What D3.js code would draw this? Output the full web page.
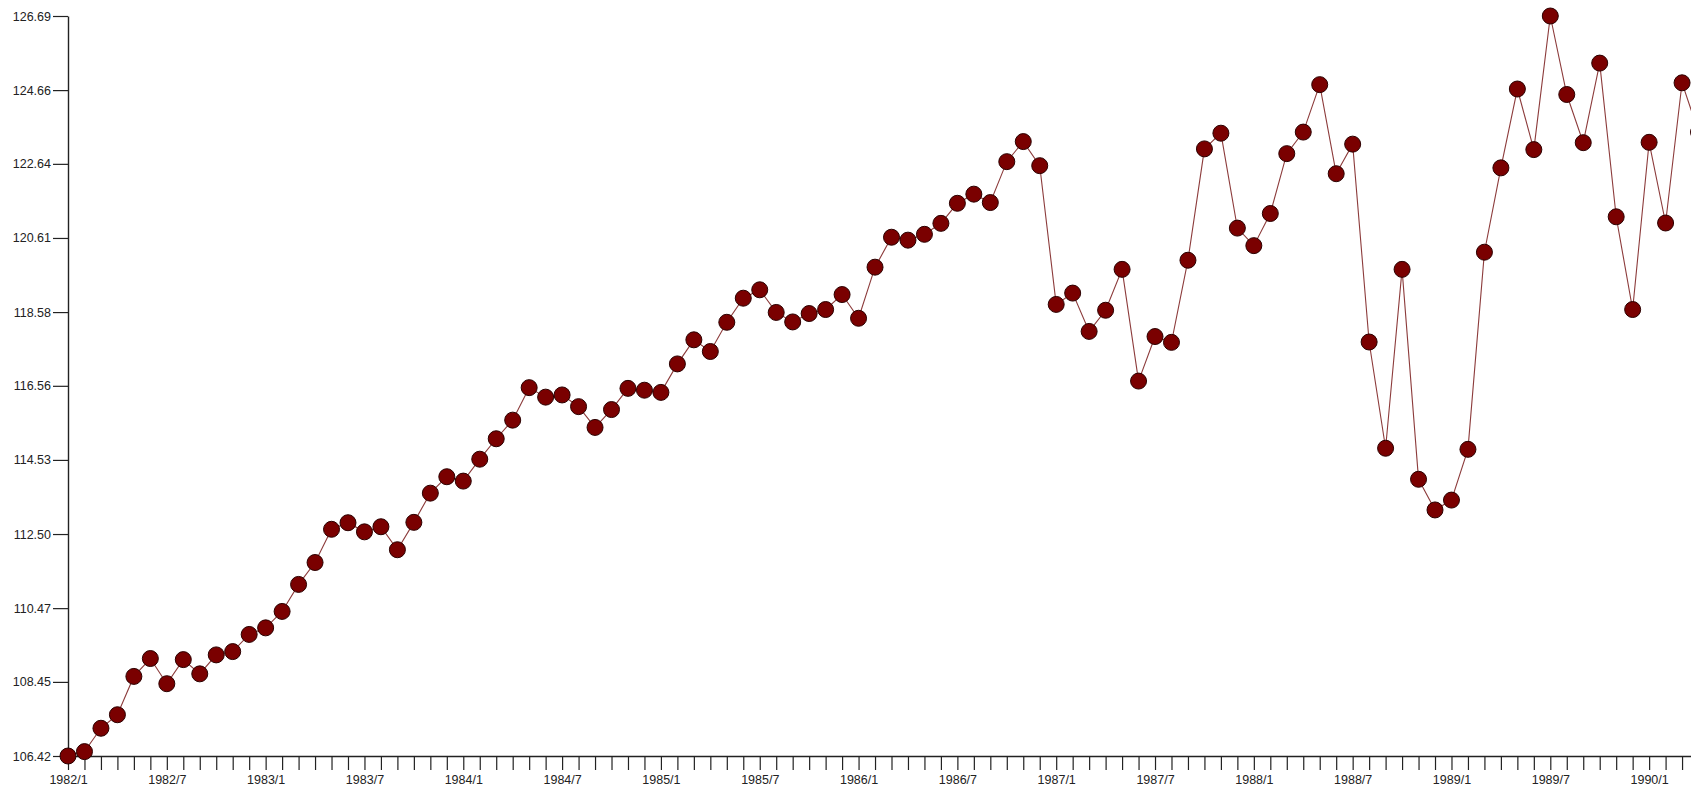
<!DOCTYPE html>
<html>
<head>
<meta charset="utf-8">
<script src="https://cdn.jsdelivr.net/npm/d3@7"></script>
<style>
  html, body { margin: 0; padding: 0; background: #ffffff; overflow: hidden; }
  svg { display: block; }
</style>
</head>
<body>
<svg id="chart" width="1691" height="787"></svg>
<script>
// ---- DATA ----
const months = [
  "1982/1","1982/2","1982/3","1982/4","1982/5","1982/6","1982/7","1982/8","1982/9","1982/10","1982/11","1982/12",
  "1983/1","1983/2","1983/3","1983/4","1983/5","1983/6","1983/7","1983/8","1983/9","1983/10","1983/11","1983/12",
  "1984/1","1984/2","1984/3","1984/4","1984/5","1984/6","1984/7","1984/8","1984/9","1984/10","1984/11","1984/12",
  "1985/1","1985/2","1985/3","1985/4","1985/5","1985/6","1985/7","1985/8","1985/9","1985/10","1985/11","1985/12",
  "1986/1","1986/2","1986/3","1986/4","1986/5","1986/6","1986/7","1986/8","1986/9","1986/10","1986/11","1986/12",
  "1987/1","1987/2","1987/3","1987/4","1987/5","1987/6","1987/7","1987/8","1987/9","1987/10","1987/11","1987/12",
  "1988/1","1988/2","1988/3","1988/4","1988/5","1988/6","1988/7","1988/8","1988/9","1988/10","1988/11","1988/12",
  "1989/1","1989/2","1989/3","1989/4","1989/5","1989/6","1989/7","1989/8","1989/9","1989/10","1989/11","1989/12",
  "1990/1","1990/2","1990/3","1990/4"
];
const values = [
  106.42,106.54,107.18,107.55,108.60,109.09,108.40,109.06,108.67,109.19,109.28,109.75,
  109.93,110.38,111.12,111.72,112.63,112.81,112.56,112.70,112.07,112.82,113.62,114.07,
  113.95,114.55,115.11,115.62,116.51,116.25,116.31,115.99,115.42,115.91,116.49,116.44,
  116.38,117.16,117.82,117.50,118.30,118.96,119.19,118.57,118.31,118.54,118.65,119.06,
  118.41,119.81,120.63,120.55,120.71,121.01,121.56,121.81,121.58,122.70,123.25,122.59,
  118.79,119.10,118.05,118.63,119.75,116.69,117.91,117.75,120.00,123.05,123.48,120.88,
  120.40,121.28,122.92,123.51,124.81,122.37,123.18,117.76,114.85,119.75,114.00,113.16,
  113.43,114.82,120.22,122.53,124.69,123.03,126.69,124.54,123.22,125.40,121.19,118.65,
  123.23,121.02,124.86,123.51
];
const yTickValues = [106.42,108.45,110.47,112.50,114.53,116.56,118.58,120.61,122.64,124.66,126.69];
const yTickLabels = ["106.42","108.45","110.47","112.50","114.53","116.56","118.58","120.61","122.64","124.66","126.69"];
const xTickLabels = ["1982/1","1982/7","1983/1","1983/7","1984/1","1984/7","1985/1","1985/7","1986/1","1986/7",
                     "1987/1","1987/7","1988/1","1988/7","1989/1","1989/7","1990/1"];

// ---- LAYOUT ----
const svg = d3.select("#chart");
const x0 = 68, step = 16.47;
const yTop = 16, yBottom = 756;
const fontFamily = "'Liberation Sans', Arial, sans-serif";

const x = d3.scalePoint()
  .domain(months)
  .range([x0, x0 + step * (months.length - 1)]);

const y = d3.scaleLinear()
  .domain(d3.extent(values))
  .range([yBottom, yTop]);

// x axis
const xAxis = d3.axisBottom(x)
  .tickSizeInner(14)
  .tickSizeOuter(0)
  .tickPadding(5)
  .tickFormat(d => xTickLabels.includes(d) ? d : "");

const gx = svg.append("g")
  .attr("transform", `translate(0,${yBottom})`)
  .call(xAxis);
gx.select(".domain").attr("stroke", "#222").attr("stroke-width", 1.4).attr("d", `M${x0},0.5H1691`);
gx.selectAll(".tick line").attr("stroke", "#222").attr("stroke-width", 1.2);
gx.selectAll(".tick text")
  .attr("fill", "#222")
  .attr("font-family", fontFamily)
  .attr("font-size", 12.5);

// y axis
const yAxis = d3.axisLeft(y)
  .tickValues(yTickValues)
  .tickSizeInner(15)
  .tickSizeOuter(0)
  .tickPadding(2)
  .tickFormat((d, i) => yTickLabels[i]);

const gy = svg.append("g")
  .attr("transform", `translate(${x0},0)`)
  .call(yAxis);
gy.select(".domain").attr("stroke", "#222").attr("stroke-width", 1.4);
gy.selectAll(".tick line").attr("stroke", "#222").attr("stroke-width", 1.2);
gy.selectAll(".tick text")
  .attr("fill", "#222")
  .attr("font-family", fontFamily)
  .attr("font-size", 12.5);

// line
const line = d3.line()
  .x((d, i) => x(months[i]))
  .y(d => y(d));

svg.append("path")
  .datum(values)
  .attr("fill", "none")
  .attr("stroke", "#8c3b3b")
  .attr("stroke-width", 1.1)
  .attr("d", line);

// points
svg.append("g")
  .selectAll("circle")
  .data(values)
  .join("circle")
  .attr("cx", (d, i) => x(months[i]))
  .attr("cy", d => y(d))
  .attr("r", 8)
  .attr("fill", "#7a0000")
  .attr("stroke", "#2b0000")
  .attr("stroke-width", 1);
</script>
</body>
</html>
